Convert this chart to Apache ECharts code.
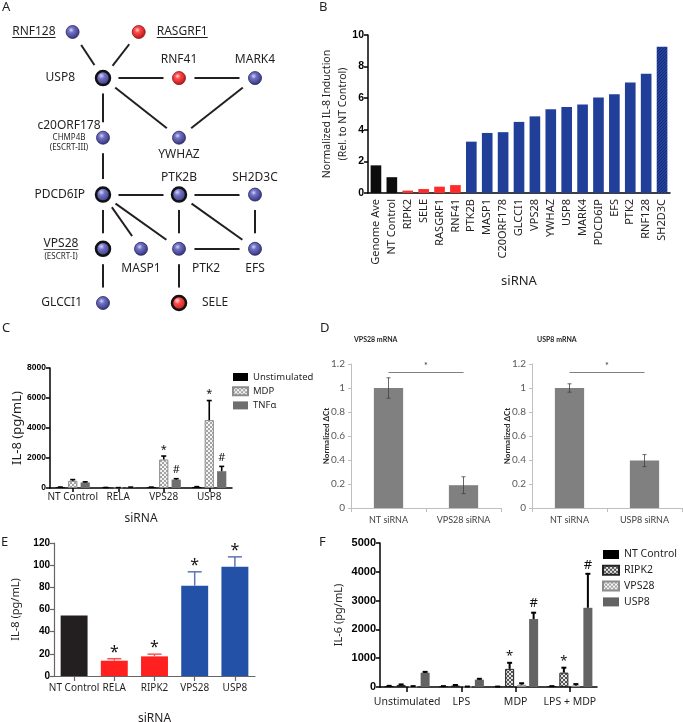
<!DOCTYPE html>
<html><head><meta charset="utf-8">
<script src="https://cdn.jsdelivr.net/npm/echarts@6/dist/echarts.min.js"></script>
<style>html,body{margin:0;padding:0;background:#fff}#chart{width:683px;height:722px}</style>
</head><body><div id="chart"></div>
<script>
// ================= DATA =================
// Panel A: interaction network (grid columns / rows)
const nodeNames = ['RNF128','RASGRF1','USP8','RNF41','MARK4','c20ORF178','YWHAZ','PDCD6IP','PTK2B','SH2D3C','VPS28','MASP1','PTK2','EFS','GLCCI1','SELE'];
const nodeCol   = [-0.4, 0.47, 0, 1, 2, 0, 1, 0, 1, 2, 0, 0.5, 1, 2, 0, 1];
const nodeRow   = [0, 0, 0.85, 0.85, 0.85, 1.95, 1.95, 3, 3, 3, 4, 4, 4, 4, 5, 5];
const nodeKind  = ['blue','red','blueHub','red','blue','blue','blue','blueHub','blueHub','blue','blueHub','blue','blue','blue','blue','redHub'];
const nodeSubLabels = { c20ORF178: ['CHMP4B','(ESCRT-III)'], VPS28: ['(ESCRT-I)'] };
const nodeUnderlined = ['RNF128','RASGRF1','VPS28'];
const edgePairs = [
  ['RNF128','USP8'],['RASGRF1','USP8'],['USP8','RNF41'],['RNF41','MARK4'],['USP8','YWHAZ'],['MARK4','YWHAZ'],
  ['USP8','c20ORF178'],['c20ORF178','PDCD6IP'],['PDCD6IP','PTK2B'],['PTK2B','SH2D3C'],['PDCD6IP','VPS28'],
  ['PDCD6IP','MASP1'],['PDCD6IP','PTK2'],['PTK2B','PTK2'],['PTK2B','EFS'],['SH2D3C','EFS'],['PTK2','EFS'],
  ['VPS28','GLCCI1'],['PTK2','SELE']
];

// Panel B
const bCategories = ['Genome Ave','NT Control','RIPK2','SELE','RASGRF1','RNF41','PTK2B','MASP1','C20ORF178','GLCCI1','VPS28','YWHAZ','USP8','MARK4','PDCD6IP','EFS','PTK2','RNF128','SH2D3C'];
const bValues = [1.75, 1.0, 0.15, 0.25, 0.4, 0.5, 3.25, 3.8, 3.85, 4.5, 4.85, 5.3, 5.45, 5.6, 6.05, 6.25, 7.0, 7.55, 9.25];
const bClass  = ['ctrl','ctrl','red','red','red','red','blue','blue','blue','blue','blue','blue','blue','blue','blue','blue','blue','blue','dotted'];

// Panel C
const cCategories = ['NT Control','RELA','VPS28','USP8'];
const cSeriesNames = ['Unstimulated','MDP','TNFα'];
const cUnstim    = [50, 30, 50, 70];
const cUnstimErr = [15, 5, 10, 20];
const cMDP       = [480, 20, 1900, 4530];
const cMDPErr    = [80, 5, 230, 1300];
const cTNF       = [370, 50, 560, 1120];
const cTNFErr    = [40, 10, 60, 320];
const cUnstimMarks = ['', '', '', ''];
const cMDPMarks    = ['', '', '*', '*'];
const cTNFMarks    = ['', '', '#', '#'];

// Panel D
const dTitles = ['VPS28 mRNA','USP8 mRNA'];
const dCats1 = ['NT siRNA','VPS28 siRNA'];
const dVals1 = [1.0, 0.19];
const dErr1  = [0.085, 0.07];
const dCats2 = ['NT siRNA','USP8 siRNA'];
const dVals2 = [1.0, 0.395];
const dErr2  = [0.035, 0.05];
const dSigLevel = [1.13, 1.13];

// Panel E
const eCategories = ['NT Control','RELA','RIPK2','VPS28','USP8'];
const eValues = [54.5, 13.8, 17.7, 81.5, 98.5];
const eErr    = [0, 1.8, 2.0, 12.5, 9.0];
const eMarks  = ['', '*', '*', '*', '*'];
const eClass  = ['ctrl','red','red','blue','blue'];

// Panel F
const fCategories = ['Unstimulated','LPS','MDP','LPS + MDP'];
const fSeriesNames = ['NT Control','RIPK2','VPS28','USP8'];
const fNT       = [30, 20, 10, 20];
const fNTErr    = [10, 10, 5, 10];
const fRIPK2    = [70, 50, 630, 500];
const fRIPK2Err = [20, 20, 210, 170];
const fVPS28    = [20, 10, 80, 50];
const fVPS28Err = [10, 5, 50, 50];
const fUSP8     = [495, 255, 2360, 2750];
const fUSP8Err  = [30, 30, 220, 1180];
const fNTMarks    = ['', '', '', ''];
const fRIPK2Marks = ['', '', '*', '*'];
const fVPS28Marks = ['', '', '', ''];
const fUSP8Marks  = ['', '', '#', '#'];

// ================= STYLE =================
const FM = 'Noto Sans', FA = 'Liberation Sans', FC = 'Lato';
const INK = '#231f20';

function pattern(size, draw) {
  const c = document.createElement('canvas');
  c.width = c.height = size;
  const g = c.getContext('2d');
  draw(g);
  return { image: c, repeat: 'repeat' };
}
const checker = () => pattern(4, g => {
  g.fillStyle = '#f4f4f4'; g.fillRect(0, 0, 4, 4);
  g.fillStyle = '#a4a4a4'; g.fillRect(0, 0, 2, 2); g.fillRect(2, 2, 2, 2);
});
const hatch = () => pattern(4, g => {
  g.fillStyle = '#e2e2e2'; g.fillRect(0, 0, 4, 4);
  g.fillStyle = '#555';
  for (let i = 0; i < 4; i++) { g.fillRect(i, i, 1, 1); g.fillRect(3 - i, i, 1, 1); }
});
const dotted = () => pattern(3, g => {
  g.fillStyle = '#24419b'; g.fillRect(0, 0, 3, 3);
  g.fillStyle = '#12297a'; g.fillRect(0, 0, 1, 1); g.fillRect(2, 1, 1, 1); g.fillRect(1, 2, 1, 1);
});

const bColors = { ctrl: '#0d0d0d', red: '#ff2b2b', blue: '#213f99', dotted: dotted() };
const eColors = { ctrl: '#231f20', red: '#ff2020', blue: '#2251a7' };
const eErrColors = { ctrl: '#231f20', red: '#ff5050', blue: '#5d74b6' };

const gradBlue = { type: 'radial', x: 0.4, y: 0.36, r: 0.7, colorStops: [
  { offset: 0, color: '#d4d4f6' }, { offset: 0.28, color: '#7272c6' }, { offset: 1, color: '#2a2a6e' }] };
const gradRed = { type: 'radial', x: 0.4, y: 0.36, r: 0.7, colorStops: [
  { offset: 0, color: '#ffd8d8' }, { offset: 0.28, color: '#ff4a4a' }, { offset: 1, color: '#a81010' }] };

const nodeLabelLayout = {
  RNF128: { align: 'right', offset: [-17, 0] },
  RASGRF1: { align: 'left', offset: [18, 0] },
  USP8: { align: 'right', offset: [-28, 0] },
  RNF41: { align: 'center', offset: [0, -18] },
  MARK4: { align: 'center', offset: [0, -18] },
  c20ORF178: { align: 'center', offset: [-34, -2] },
  YWHAZ: { align: 'center', offset: [0, 17] },
  PDCD6IP: { align: 'right', offset: [-18, 0] },
  PTK2B: { align: 'center', offset: [0, -17] },
  SH2D3C: { align: 'center', offset: [0, -17] },
  VPS28: { align: 'center', offset: [-42, 0] },
  MASP1: { align: 'center', offset: [0, 20] },
  PTK2: { align: 'center', offset: [27, 20] },
  EFS: { align: 'center', offset: [0, 20] },
  GLCCI1: { align: 'right', offset: [-21, 0] },
  SELE: { align: 'left', offset: [23, 0] }
};
const underlineBg = { type: 'linear', x: 0, y: 0, x2: 0, y2: 1, colorStops: [
  { offset: 0, color: 'rgba(0,0,0,0)' }, { offset: 0.9, color: 'rgba(0,0,0,0)' },
  { offset: 0.9, color: INK }, { offset: 1, color: INK }] };

// ================= BUILD =================
function errSeries(o) {
  return {
    type: 'custom', name: o.name, xAxisIndex: o.axis, yAxisIndex: o.axis, z: 6, silent: true,
    data: o.vals.map((v, i) => [i, v, o.errs[i]]),
    encode: { x: 0, y: 1 },
    renderItem: function (params, api) {
      const cat = api.value(0), val = api.value(1), err = api.value(2);
      const band = api.size([1, 0])[0];
      const usable = band * (1 - o.catGap);
      const bw = usable / (o.n + (o.n - 1) * o.barGap);
      const off = -usable / 2 + o.idx * bw * (1 + o.barGap) + bw / 2;
      const base = api.coord([cat, val]);
      const x = base[0] + off;
      const top = api.coord([cat, val + err])[1];
      const bottom = o.both ? api.coord([cat, val - err])[1] : base[1];
      const color = o.colorFn ? o.colorFn(params.dataIndex) : o.color;
      const children = [];
      if (err > 0) {
        children.push({ type: 'line', shape: { x1: x, y1: bottom, x2: x, y2: top }, style: { stroke: color, lineWidth: o.width } });
        children.push({ type: 'line', shape: { x1: x - o.cap / 2, y1: top, x2: x + o.cap / 2, y2: top }, style: { stroke: color, lineWidth: o.width } });
        if (o.both) children.push({ type: 'line', shape: { x1: x - o.cap / 2, y1: bottom, x2: x + o.cap / 2, y2: bottom }, style: { stroke: color, lineWidth: o.width } });
      }
      const m = o.marks ? o.marks[params.dataIndex] : '';
      if (m) {
        const fs = o.markSize;
        const y = top - o.markGap + (m === '*' ? 0.22 * fs : 0);
        children.push({ type: 'text', x: x, y: y, style: {
          text: m, fill: '#111', fontSize: fs, fontFamily: FM,
          align: 'center', verticalAlign: 'middle' } });
      }
      return { type: 'group', children: children };
    }
  };
}

const plain = v => String(v);
const axisBlack = { lineStyle: { color: '#000', width: 1.5 } };
const tickBlack = { show: true, length: 4, lineStyle: { color: '#000', width: 1.5 } };
const nameStyle = (fs, extra) => Object.assign({ fontSize: fs, fontFamily: FM, color: INK }, extra || {});

const grids = [
  { left: 368, top: 35, width: 302, height: 158 },   // B
  { left: 50, top: 368, width: 182, height: 120 },   // C
  { left: 351, top: 364, width: 150, height: 144 },  // D1
  { left: 532, top: 364, width: 150, height: 144 },  // D2
  { left: 54, top: 543, width: 201, height: 133 },   // E
  { left: 380, top: 543, width: 217, height: 144 },  // F
  { left: 27, top: 32, width: 266, height: 271 }     // A
].map(g => Object.assign({ containLabel: false, outerBoundsMode: 'none' }, g));

const xAxes = [
  { gridIndex: 0, type: 'category', data: bCategories, axisLine: axisBlack, axisTick: { show: false },
    axisLabel: { rotate: 90, interval: 0, fontSize: 11, fontFamily: FM, color: INK, margin: 6 },
    name: 'siRNA', nameLocation: 'middle', nameGap: 82, nameTextStyle: nameStyle(13), nameMoveOverlap: false },
  { gridIndex: 1, type: 'category', data: cCategories, axisLine: axisBlack, axisTick: Object.assign({ alignWithLabel: true }, tickBlack),
    axisLabel: { interval: 0, fontSize: 10, fontFamily: FM, color: INK, margin: 4 },
    name: 'siRNA', nameLocation: 'middle', nameGap: 25, nameTextStyle: nameStyle(12), nameMoveOverlap: false },
  { gridIndex: 2, type: 'category', data: dCats1, axisLine: { lineStyle: { color: '#bfbfbf', width: 1 } },
    axisTick: { show: true, length: 4, lineStyle: { color: '#bfbfbf' } },
    axisLabel: { fontSize: 9, fontFamily: FC, color: '#404040', margin: 8 } },
  { gridIndex: 3, type: 'category', data: dCats2, axisLine: { lineStyle: { color: '#bfbfbf', width: 1 } },
    axisTick: { show: true, length: 4, lineStyle: { color: '#bfbfbf' } },
    axisLabel: { fontSize: 9, fontFamily: FC, color: '#404040', margin: 8 } },
  { gridIndex: 4, type: 'category', data: eCategories, axisLine: { lineStyle: { color: '#666', width: 1.2 } },
    axisTick: { show: true, alignWithLabel: true, length: 5, lineStyle: { color: '#666', width: 1.2 } },
    axisLabel: { interval: 0, fontSize: 10, fontFamily: FM, color: INK, margin: 7 },
    name: 'siRNA', nameLocation: 'middle', nameGap: 37, nameTextStyle: nameStyle(12), nameMoveOverlap: false },
  { gridIndex: 5, type: 'category', data: fCategories, axisLine: axisBlack,
    axisTick: { show: true, alignWithLabel: true, length: 5, lineStyle: { color: '#000', width: 1.5 } },
    axisLabel: { interval: 0, fontSize: 10.5, fontFamily: FM, color: INK, margin: 10 } },
  { gridIndex: 6, type: 'value', min: -1, max: 2.5, show: false }
];

const yBase = (gi, min, max, iv, fs, name, gap, nfs) => ({
  gridIndex: gi, type: 'value', min: min, max: max, interval: iv,
  axisLine: Object.assign({ show: true }, axisBlack), axisTick: tickBlack, splitLine: { show: false },
  axisLabel: { fontSize: fs, fontWeight: 'bold', fontFamily: FA, color: '#000', margin: 4, formatter: plain },
  name: name, nameLocation: 'middle', nameGap: gap, nameTextStyle: nameStyle(nfs), nameMoveOverlap: false
});
const dY = (gi) => ({
  gridIndex: gi, type: 'value', min: 0, max: 1.2, interval: 0.2,
  axisLine: { show: true, lineStyle: { color: '#bfbfbf', width: 1 } },
  axisTick: { show: true, length: 3, lineStyle: { color: '#bfbfbf' } }, splitLine: { show: false },
  axisLabel: { fontSize: 10, fontFamily: FC, color: '#595959', margin: 6 },
  name: 'Normalized ΔCt', nameLocation: 'middle', nameGap: 21, nameMoveOverlap: false,
  nameTextStyle: { fontSize: 8, fontWeight: 'bold', fontFamily: FC, color: '#262626' }
});
const yAxes = [
  Object.assign(yBase(0, 0, 10, 2, 10.5, 'Normalized IL-8 Induction\n(Rel. to NT Control)', 17, 10.5),
    { nameTextStyle: nameStyle(10.5, { lineHeight: 16 }) }),
  yBase(1, 0, 8000, 2000, 8.5, 'IL-8 (pg/mL)', 26, 13),
  dY(2), dY(3),
  Object.assign(yBase(4, 0, 120, 20, 10, 'IL-8 (pg/mL)', 33, 11), {
    axisLine: { show: true, lineStyle: { color: '#666', width: 1.2 } },
    axisTick: { show: true, length: 4, lineStyle: { color: '#666', width: 1.2 } } }),
  yBase(5, 0, 5000, 1000, 11, 'IL-6 (pg/mL)', 36, 11),
  { gridIndex: 6, type: 'value', min: 0, max: 5, inverse: true, show: false }
];

const series = [];

// ---- B ----
series.push({
  type: 'bar', name: 'B', xAxisIndex: 0, yAxisIndex: 0, barCategoryGap: '33%',
  data: bValues.map((v, i) => ({ value: v, itemStyle: { color: bColors[bClass[i]] } }))
});

// ---- C ----
const cVals = [cUnstim, cMDP, cTNF], cErrs = [cUnstimErr, cMDPErr, cTNFErr], cMarks = [cUnstimMarks, cMDPMarks, cTNFMarks];
const cStyles = [
  { color: '#000' },
  { color: checker(), borderColor: '#8c8c8c', borderWidth: 1 },
  { color: '#6e6e6e' }
];
cSeriesNames.forEach((nm, k) => {
  series.push({ type: 'bar', name: nm, xAxisIndex: 1, yAxisIndex: 1, barGap: '35%', barCategoryGap: '25%',
    itemStyle: cStyles[k], data: cVals[k] });
  series.push(errSeries({ name: 'C err ' + k, axis: 1, vals: cVals[k], errs: cErrs[k], marks: cMarks[k],
    n: 3, idx: k, catGap: 0.25, barGap: 0.35, color: '#000', width: 1.6, cap: 5, markSize: 11, markGap: 9 }));
});

// ---- D ----
[[dCats1, dVals1, dErr1], [dCats2, dVals2, dErr2]].forEach((d, k) => {
  const ax = 2 + k;
  series.push({ type: 'bar', name: 'D' + k, xAxisIndex: ax, yAxisIndex: ax, barCategoryGap: '61%',
    itemStyle: { color: '#808080' }, data: d[1],
    markLine: { silent: true, symbol: 'none', lineStyle: { color: '#808080', width: 1, type: 'solid' },
      label: { show: true, position: 'middle', formatter: '*', fontSize: 9, fontFamily: FC, color: '#333', distance: 2 },
      data: [[{ coord: [d[0][0], dSigLevel[k]] }, { coord: [d[0][1], dSigLevel[k]] }]] } });
  series.push(errSeries({ name: 'D err ' + k, axis: ax, vals: d[1], errs: d[2], n: 1, idx: 0, catGap: 0.61, barGap: 0,
    color: '#404040', width: 0.8, cap: 4, both: true }));
});

// ---- E ----
series.push({ type: 'bar', name: 'E', xAxisIndex: 4, yAxisIndex: 4, barCategoryGap: '33%',
  data: eValues.map((v, i) => ({ value: v, itemStyle: { color: eColors[eClass[i]] } })) });
series.push(errSeries({ name: 'E err', axis: 4, vals: eValues, errs: eErr, marks: eMarks, n: 1, idx: 0,
  catGap: 0.33, barGap: 0, colorFn: i => eErrColors[eClass[i]], width: 1.5, cap: 14, markSize: 16, markGap: 10 }));

// ---- F ----
const fVals = [fNT, fRIPK2, fVPS28, fUSP8], fErrs = [fNTErr, fRIPK2Err, fVPS28Err, fUSP8Err];
const fMarks = [fNTMarks, fRIPK2Marks, fVPS28Marks, fUSP8Marks];
const fStyles = [
  { color: '#000' },
  { color: hatch(), borderColor: '#222', borderWidth: 1 },
  { color: checker(), borderColor: '#8c8c8c', borderWidth: 1 },
  { color: '#636363' }
];
fSeriesNames.forEach((nm, k) => {
  series.push({ type: 'bar', name: nm, xAxisIndex: 5, yAxisIndex: 5, barGap: '33%', barCategoryGap: '17%',
    itemStyle: fStyles[k], data: fVals[k] });
  series.push(errSeries({ name: 'F err ' + k, axis: 5, vals: fVals[k], errs: fErrs[k], marks: fMarks[k],
    n: 4, idx: k, catGap: 0.17, barGap: 0.33, color: '#000', width: 2, cap: 5, markSize: 13, markGap: 9 }));
});

// ---- A ----
series.push({
  type: 'graph', coordinateSystem: 'cartesian2d', xAxisIndex: 6, yAxisIndex: 6, silent: true, z: 1,
  symbolSize: 1, itemStyle: { opacity: 0 }, label: { show: false },
  lineStyle: { color: INK, width: 2, opacity: 1, curveness: 0 },
  data: nodeNames.map((n, i) => ({ name: n, value: [nodeCol[i], nodeRow[i]] })),
  links: edgePairs.map(p => ({ source: p[0], target: p[1] }))
});
series.push({
  type: 'scatter', name: 'halo', xAxisIndex: 6, yAxisIndex: 6, silent: true, z: 3, clip: false,
  symbolSize: 31, itemStyle: { color: '#fff', opacity: 1 },
  data: nodeNames.map((n, i) => [nodeCol[i], nodeRow[i]])
});
series.push({
  type: 'scatter', name: 'nodes', xAxisIndex: 6, yAxisIndex: 6, silent: true, z: 4, clip: false,
  data: nodeNames.map((n, i) => {
    const kind = nodeKind[i];
    const hub = kind.indexOf('Hub') >= 0;
    const red = kind.indexOf('red') === 0;
    const lay = nodeLabelLayout[n];
    const main = nodeUnderlined.indexOf(n) >= 0 ? '{u|' + n + '}' : '{m|' + n + '}';
    const subs = (nodeSubLabels[n] || []).map(s => '{s|' + s + '}');
    return {
      name: n, value: [nodeCol[i], nodeRow[i]],
      symbolSize: hub ? 14 : 13,
      itemStyle: { color: red ? gradRed : gradBlue, borderColor: hub ? '#111' : (red ? '#8a1010' : '#26265e'), borderWidth: hub ? 2.5 : 0.8, opacity: 1 },
      label: { show: true, position: 'inside', align: lay.align, verticalAlign: 'middle', offset: lay.offset,
        formatter: [main].concat(subs).join('\n'),
        rich: {
          m: { fontSize: 12, fontFamily: FM, color: INK, lineHeight: 15, align: 'center' },
          u: { fontSize: 12, fontFamily: FM, color: INK, lineHeight: 15, backgroundColor: underlineBg, align: 'center' },
          s: { fontSize: 8, fontFamily: FM, color: INK, lineHeight: 10, align: 'center' }
        } }
    };
  })
});

const letter = (t, l, tp) => ({ text: t, left: l, top: tp, padding: 0,
  textStyle: { fontSize: 13, fontWeight: 'normal', fontFamily: FM, color: INK } });

const option = {
  animation: false,
  backgroundColor: '#fff',
  title: [
    letter('A', 2, 1), letter('B', 319, 1), letter('C', 2, 322), letter('D', 320, 322), letter('E', 1, 536), letter('F', 319, 536),
    { text: dTitles[0], left: 354, top: 336, padding: 0, textStyle: { fontSize: 7, fontWeight: 'bold', fontFamily: FC, color: '#262626' } },
    { text: dTitles[1], left: 537, top: 336, padding: 0, textStyle: { fontSize: 7, fontWeight: 'bold', fontFamily: FC, color: '#262626' } }
  ],
  legend: [
    { data: cSeriesNames, orient: 'vertical', left: 232, top: 372, padding: 0, itemWidth: 15, itemHeight: 8, itemGap: 4.2,
      selectedMode: false, icon: 'rect', textStyle: { fontSize: 9.5, fontFamily: FM, color: INK } },
    { data: fSeriesNames, orient: 'vertical', left: 602, top: 549, padding: 0, itemWidth: 16, itemHeight: 9, itemGap: 4.8,
      selectedMode: false, icon: 'rect', textStyle: { fontSize: 10.5, fontFamily: FM, color: INK } }
  ],
  grid: grids, xAxis: xAxes, yAxis: yAxes, series: series
};

const chart = echarts.init(document.getElementById('chart'), null, { renderer: 'canvas', width: 683, height: 722 });
chart.setOption(option);
</script></body></html>
